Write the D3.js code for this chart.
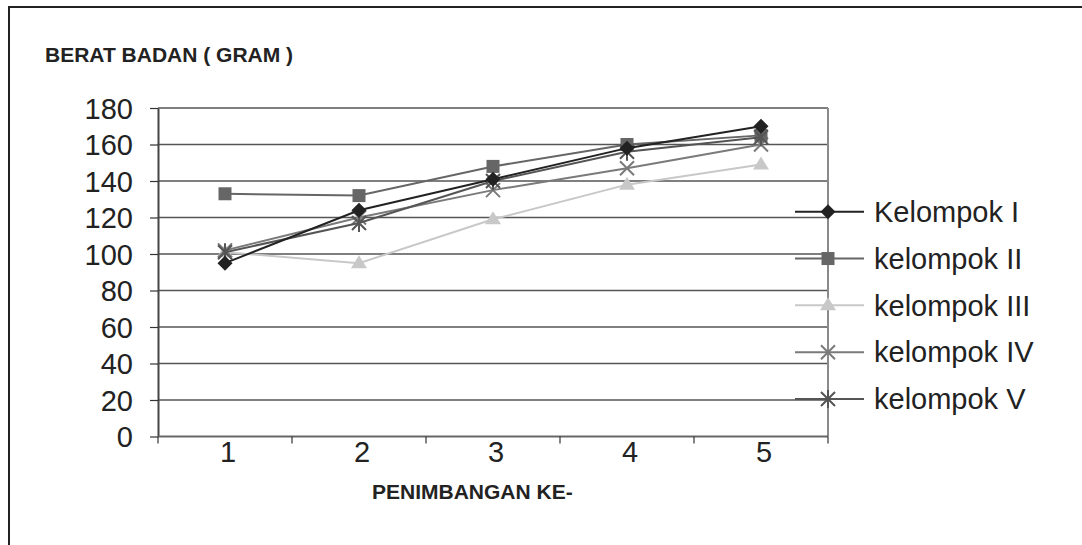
<!DOCTYPE html>
<html>
<head>
<meta charset="utf-8">
<script src="https://cdn.jsdelivr.net/npm/d3@7"></script>
<style>
  html, body { margin: 0; padding: 0; background: #fff; }
  svg { display: block; }
  text { font-family: "Liberation Sans", Arial, sans-serif; fill: #222; }
</style>
</head>
<body>
<div id="chart"></div>
<script>
// ---- data ----
const categories = ["1", "2", "3", "4", "5"];
const seriesNames = ["Kelompok I", "kelompok II", "kelompok III", "kelompok IV", "kelompok V"];
const kelompok1 = [95, 124, 141, 158, 170];
const kelompok2 = [133, 132, 148, 160, 165];
const kelompok3 = [101, 95, 119, 138, 149];
const kelompok4 = [102, 120, 135, 147, 160];
const kelompok5 = [101, 117, 140, 156, 164];
const yTicks = [0, 20, 40, 60, 80, 100, 120, 140, 160, 180];
const yTitle = "BERAT BADAN ( GRAM )";
const xTitle = "PENIMBANGAN KE-";

const seriesValues = [kelompok1, kelompok2, kelompok3, kelompok4, kelompok5];
const colors = ["#222222", "#666666", "#c8c8c8", "#7a7a7a", "#555555"];
const markers = ["diamond", "square", "triangle", "x", "star"];

const W = 1082, H = 545;
const plot = { left: 158, right: 828, top: 108, bottom: 436.5 };

const svg = d3.select("#chart").append("svg").attr("width", W).attr("height", H);

// outer frame
svg.append("path")
  .attr("d", `M9,${H + 5} L9,7 L${W + 5},7`)
  .attr("fill", "none").attr("stroke", "#222").attr("stroke-width", 2);

const x = d3.scaleBand().domain(categories).range([plot.left, plot.right]).padding(0);
const y = d3.scaleLinear().domain([0, 180]).range([plot.bottom, plot.top]);

// gridlines
svg.append("g").selectAll("line").data(yTicks.filter(d => d > 0)).join("line")
  .attr("x1", plot.left).attr("x2", plot.right)
  .attr("y1", d => y(d)).attr("y2", d => y(d))
  .attr("stroke", "#555").attr("stroke-width", 1.4);

// right border of plot area
svg.append("line")
  .attr("x1", plot.right).attr("x2", plot.right)
  .attr("y1", plot.top).attr("y2", plot.bottom)
  .attr("stroke", "#8a8a8a").attr("stroke-width", 2);

// y axis
const yAxis = d3.axisLeft(y).tickValues(yTicks).tickSize(8).tickPadding(17).tickSizeOuter(0);
const gy = svg.append("g").attr("transform", `translate(${plot.left},0)`).call(yAxis);
gy.select(".domain").attr("stroke", "#444").attr("stroke-width", 2);
gy.selectAll(".tick line").attr("stroke", "#333").attr("stroke-width", 1.2);
gy.selectAll(".tick text").attr("font-size", 29).attr("font-family", "Liberation Sans, Arial, sans-serif").attr("fill", "#222").attr("dy", "0.36em");

// x axis (labels at centers)
const xAxis = d3.axisBottom(x).tickSize(0).tickPadding(5);
const gx = svg.append("g").attr("transform", `translate(3,${plot.bottom})`).call(xAxis);
gx.select(".domain").remove();
gx.selectAll(".tick text").attr("font-size", 29).attr("font-family", "Liberation Sans, Arial, sans-serif").attr("fill", "#222");

// x axis line
svg.append("line").attr("x1", plot.left).attr("x2", plot.right)
  .attr("y1", plot.bottom).attr("y2", plot.bottom)
  .attr("stroke", "#666").attr("stroke-width", 2);

// x boundary ticks
const bounds = categories.map(c => x(c)).concat([x(categories[categories.length - 1]) + x.bandwidth()]);
svg.append("g").selectAll("line").data(bounds).join("line")
  .attr("x1", d => d).attr("x2", d => d)
  .attr("y1", plot.bottom).attr("y2", plot.bottom + 7)
  .attr("stroke", "#333").attr("stroke-width", 1.2);

// titles
svg.append("text").attr("x", 45).attr("y", 62)
  .attr("font-size", 21).attr("font-weight", "bold").text(yTitle);
svg.append("text").attr("x", 372).attr("y", 499)
  .attr("font-size", 21).attr("font-weight", "bold").text(xTitle);

// marker drawing
function drawMarker(g, type, cx, cy, color) {
  if (type === "diamond") {
    g.append("path").attr("d", `M${cx},${cy - 7.5} L${cx + 7.5},${cy} L${cx},${cy + 7.5} L${cx - 7.5},${cy} Z`)
      .attr("fill", color);
  } else if (type === "square") {
    g.append("rect").attr("x", cx - 6.5).attr("y", cy - 6.5).attr("width", 13).attr("height", 13)
      .attr("fill", color);
  } else if (type === "triangle") {
    g.append("path").attr("d", `M${cx},${cy - 8} L${cx + 8},${cy + 5} L${cx - 8},${cy + 5} Z`)
      .attr("fill", color);
  } else if (type === "x") {
    g.append("path").attr("d", `M${cx - 7},${cy - 7} L${cx + 7},${cy + 7} M${cx - 7},${cy + 7} L${cx + 7},${cy - 7}`)
      .attr("stroke", color).attr("stroke-width", 2).attr("fill", "none");
  } else if (type === "star") {
    g.append("path").attr("d", `M${cx - 7},${cy - 7} L${cx + 7},${cy + 7} M${cx - 7},${cy + 7} L${cx + 7},${cy - 7} M${cx},${cy - 9} L${cx},${cy + 9}`)
      .attr("stroke", color).attr("stroke-width", 2).attr("fill", "none");
  }
}

const line = d3.line().x((d, i) => x(categories[i]) + x.bandwidth() / 2).y(d => y(d));

// draw series: lines then markers (order so darker on top)
const order = [2, 3, 1, 4, 0];
order.forEach(si => {
  const g = svg.append("g");
  g.append("path").datum(seriesValues[si]).attr("d", line)
    .attr("fill", "none").attr("stroke", colors[si]).attr("stroke-width", 2);
  seriesValues[si].forEach((v, i) => {
    drawMarker(g, markers[si], x(categories[i]) + x.bandwidth() / 2, y(v), colors[si]);
  });
});

// legend
const legendX1 = 795, legendX2 = 864, legendMid = 828, legendText = 874;
const legendY = d3.scalePoint().domain(seriesNames).range([211.7, 399]);
seriesNames.forEach((name, si) => {
  const ly = legendY(name);
  const g = svg.append("g");
  g.append("line").attr("x1", legendX1).attr("x2", legendX2).attr("y1", ly).attr("y2", ly)
    .attr("stroke", colors[si]).attr("stroke-width", 2);
  drawMarker(g, markers[si], legendMid, ly, colors[si]);
  g.append("text").attr("x", legendText).attr("y", ly).attr("dy", "0.35em")
    .attr("font-size", 29).text(name);
});
</script>
</body>
</html>
